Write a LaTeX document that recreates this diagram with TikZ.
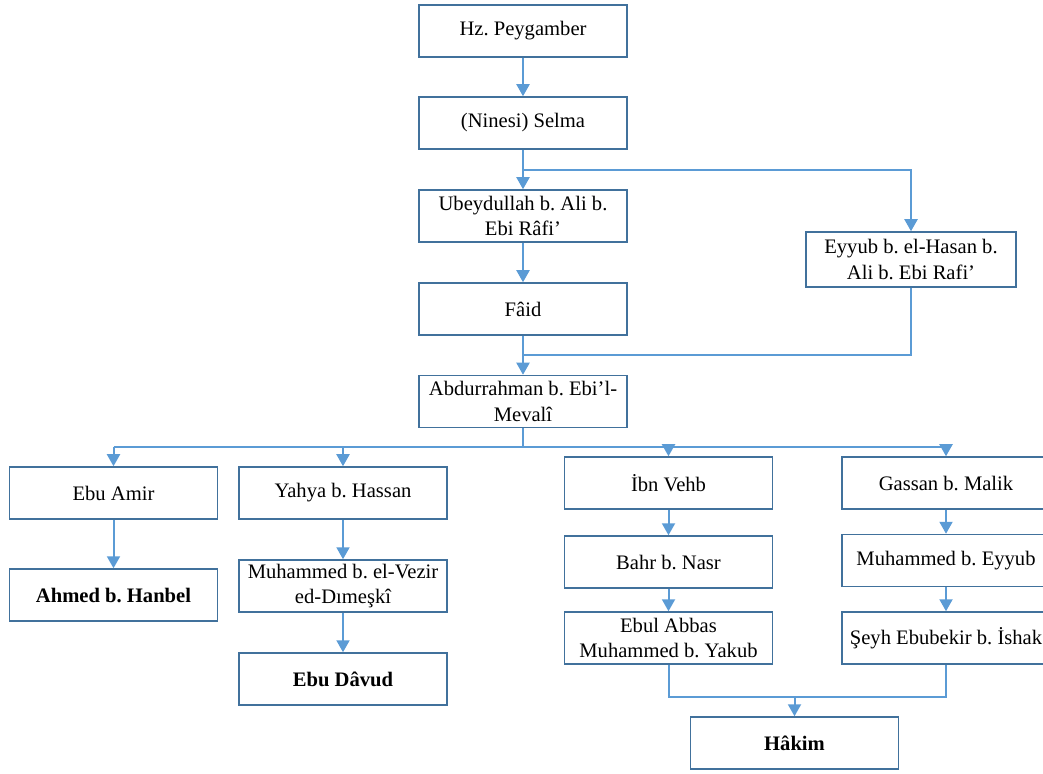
\documentclass[tikz,border=0pt]{standalone}
\usepackage{fontspec}
\setmainfont{Liberation Serif}
\usetikzlibrary{arrows.meta, positioning}
\definecolor{linkblue}{HTML}{5B9BD5}
\definecolor{boxblue}{HTML}{41719C}
\frenchspacing

\begin{document}
\begin{tikzpicture}[x=0.5pt, y=-0.5pt,
  box/.style={shape=rectangle, minimum height=26pt, minimum width=104pt, inner sep=0pt,
    draw=boxblue, line width=0.75pt, fill=white, align=center,
    font=\fontsize{10.3}{12.6}\selectfont},
  link/.style={draw=linkblue, line width=1pt},
  arr/.style={link, -{Triangle[width=6.5pt, length=6pt]}}]
\useasboundingbox (0,0) rectangle (1043,774);
% top chain
\node[box] (hz) at (523,31) {Hz. Peygamber};
\node[box] (selma) at (523,123) {(Ninesi) Selma};
\node[box] (ubey) at (523,216) {Ubeydullah b. Ali b.\\Ebi Râfi’};
\node[box] (faid) at (523,309) {Fâid};
\node[box, minimum width=105pt, minimum height=27.5pt] (eyyub) at (911,259.5) {Eyyub b. el-Hasan b.\\Ali b. Ebi Rafi’};
\node[box] (abd) at (523,401.5) {Abdurrahman b. Ebi’l-\\Mevalî};
% left branches
\node[box] (amir) at (113.5,493) {Ebu Amir};
\node[box] (hanbel) at (113.5,595) {\bfseries Ahmed b. Hanbel};
\node[box] (yahya) at (343,493) {Yahya b. Hassan};
\node[box] (vezir) at (343,586) {Muhammed b. el-Vezir\\ed-Dımeşkî};
\node[box] (davud) at (343,679) {\bfseries Ebu Dâvud};
% right branches
\node[box] (vehb) at (668.5,483) {İbn Vehb};
\node[box] (bahr) at (668.5,562) {Bahr b. Nasr};
\node[box] (ebul) at (668.5,638) {Ebul Abbas\\Muhammed b. Yakub};
\node[box] (gassan) at (946,483) {Gassan b. Malik};
\node[box] (eyyub2) at (946,560.5) {Muhammed b. Eyyub};
\node[box] (seyh) at (946,638) {Şeyh Ebubekir b. İshak};
\node[box] (hakim) at (794.5,743) {\bfseries Hâkim};
%
\coordinate (b1) at (523,170);
\coordinate (b2) at (523,355);
\coordinate (bus) at (523,447);
\coordinate (m) at (794.5,697);
\draw[arr] (hz) -- (selma);
\draw[arr] (selma) -- (ubey);
\draw[arr] (b1) -| (eyyub);
\draw[arr] (ubey) -- (faid);
\draw[arr] (faid) -- (abd);
\draw[link] (eyyub) |- (b2);
%split Abdurrahman
\draw[link] (abd) -- (bus);
\draw[link] (amir.north |- bus) -- (gassan.north |- bus);
\draw[arr] (amir.north |- bus) -- (amir);
\draw[arr] (yahya.north |- bus) -- (yahya);
\draw[arr] (vehb.north |- bus) -- (vehb);
\draw[arr] (gassan.north |- bus) -- (gassan);
\draw[arr] (amir) -- (hanbel);
\draw[arr] (yahya) -- (vezir);
\draw[arr] (vezir) -- (davud);
\draw[arr] (vehb) -- (bahr);
\draw[arr] (bahr) -- (ebul);
\draw[arr] (gassan) -- (eyyub2);
\draw[arr] (eyyub2) -- (seyh);
%merge to Hakim
\draw[link] (ebul) |- (m) -| (seyh);
\draw[arr] (m) -- (hakim);
\end{tikzpicture}
\end{document}
